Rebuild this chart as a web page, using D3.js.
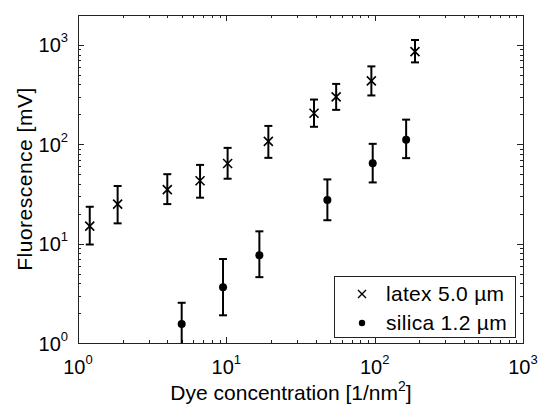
<!DOCTYPE html>
<html>
  <head>
    <script src="https://d3js.org/d3.v7.min.js"></script>
    <style>
      html,
      body {
        margin: 0;
        background: #fff;
        font-family: "Liberation Sans", Arial, sans-serif;
      }
    </style>
  </head>
  <body>
    <div id="chart"></div>
    <script>
      const width = 539;
      const height = 408;

      // latex 5.0 um
      const latexX = [1.2, 1.85, 4.0, 6.65, 10.2, 19.2, 39, 55, 95, 187];
      const latexY = [15, 25, 35, 43, 64, 107, 205, 300, 435, 855];
      const latexLo = [9.8, 16, 25, 29, 45, 73, 150, 222, 310, 667];
      const latexHi = [23.5, 38, 50, 62, 92, 153, 282, 405, 608, 1120];

      // silica 1.2 um
      const silicaX = [5.0, 9.5, 16.7, 48, 97, 163];
      const silicaY = [1.55, 3.65, 7.65, 27.5, 64.5, 111];
      const silicaLo = [0.9, 1.9, 4.6, 17.2, 41.3, 72.5];
      const silicaHi = [2.54, 7.0, 13.3, 44.3, 101, 177];

      const xTicks = [1, 10, 100, 1000];
      const yTicks = [1, 10, 100, 1000];

      const plotLeft = 78,
        plotRight = 523,
        plotTop = 15,
        plotBottom = 343;

      const x = d3.scaleLog().domain([1, 1000]).range([plotLeft, plotRight]);
      const y = d3.scaleLog().domain([1, 2000]).range([plotBottom, plotTop]);

      const svg = d3
        .select("#chart")
        .append("svg")
        .attr("width", width)
        .attr("height", height);

      svg
        .append("defs")
        .append("clipPath")
        .attr("id", "clip")
        .append("rect")
        .attr("x", plotLeft)
        .attr("y", plotTop)
        .attr("width", plotRight - plotLeft)
        .attr("height", plotBottom - plotTop);

      //minor + major ticks, inside on all four sides
      const minorX = [];
      [1, 10, 100].forEach((d) => {
        for (let k = 2; k <= 9; k++) minorX.push(d * k);
      });
      const minorY = [];
      [1, 10, 100, 1000].forEach((d) => {
        for (let k = 2; k <= 9; k++) if (d * k < 2000) minorY.push(d * k);
      });

      const ticks = svg
        .append("g")
        .attr("stroke", "#222")
        .attr("stroke-width", 1);

      const tickLen = (major) => (major ? 6 : 3);

      [
        [minorX, false],
        [xTicks, true],
      ].forEach(([arr, major]) => {
        arr.forEach((d) => {
          const px = Math.round(x(d)) + 0.5;
          ticks
            .append("line")
            .attr("x1", px)
            .attr("x2", px)
            .attr("y1", plotBottom)
            .attr("y2", plotBottom - tickLen(major));
          ticks
            .append("line")
            .attr("x1", px)
            .attr("x2", px)
            .attr("y1", plotTop)
            .attr("y2", plotTop + tickLen(major));
        });
      });
      [
        [minorY, false],
        [yTicks, true],
      ].forEach(([arr, major]) => {
        arr.forEach((d) => {
          const py = Math.round(y(d)) + 0.5;
          ticks
            .append("line")
            .attr("y1", py)
            .attr("y2", py)
            .attr("x1", plotLeft)
            .attr("x2", plotLeft + tickLen(major));
          ticks
            .append("line")
            .attr("y1", py)
            .attr("y2", py)
            .attr("x1", plotRight)
            .attr("x2", plotRight - tickLen(major));
        });
      });

      //frame
      svg
        .append("rect")
        .attr("x", plotLeft + 0.5)
        .attr("y", plotTop + 0.5)
        .attr("width", plotRight - plotLeft)
        .attr("height", plotBottom - plotTop)
        .attr("fill", "none")
        .attr("stroke", "#222")
        .attr("stroke-width", 1);

      //tick labels
      const labelSize = 20;
      xTicks.forEach((d) => {
        const t = svg
          .append("text")
          .attr("x", x(d))
          .attr("y", 374)
          .attr("text-anchor", "middle")
          .attr("font-size", labelSize)
          .attr("fill", "#000");
        t.append("tspan").text("10");
        t.append("tspan")
          .attr("dy", -10)
          .attr("font-size", 13)
          .text(Math.round(Math.log10(d)));
      });
      yTicks.forEach((d) => {
        const t = svg
          .append("text")
          .attr("x", 68)
          .attr("y", y(d) + 7.5)
          .attr("text-anchor", "end")
          .attr("font-size", labelSize)
          .attr("fill", "#000");
        t.append("tspan").text("10");
        t.append("tspan")
          .attr("dy", -10)
          .attr("font-size", 13)
          .text(Math.round(Math.log10(d)));
      });

      //axis titles
      const xl = svg
        .append("text")
        .attr("x", 291)
        .attr("y", 400)
        .attr("text-anchor", "middle")
        .attr("font-size", 21)
        .attr("fill", "#000");
      xl.append("tspan").text("Dye concentration [1/nm");
      xl.append("tspan").attr("dy", -9).attr("font-size", 14).text("2");
      xl.append("tspan").attr("dy", 9).text("]");

      svg
        .append("text")
        .attr(
          "transform",
          `translate(32, ${(plotTop + plotBottom) / 2}) rotate(-90)`
        )
        .attr("text-anchor", "middle")
        .attr("font-size", 21)
        .attr("letter-spacing", 0.5)
        .attr("fill", "#000")
        .text("Fluorescence [mV]");

      //data
      const plot = svg.append("g").attr("clip-path", "url(#clip)");

      function errorBars(xs, lo, hi) {
        const g = plot
          .append("g")
          .attr("stroke", "#000")
          .attr("stroke-width", 2);
        xs.forEach((d, i) => {
          const px = x(d);
          g.append("line")
            .attr("x1", px)
            .attr("x2", px)
            .attr("y1", y(lo[i]))
            .attr("y2", y(hi[i]));
          [lo[i], hi[i]].forEach((v) => {
            g.append("line")
              .attr("x1", px - 4)
              .attr("x2", px + 4)
              .attr("y1", y(v))
              .attr("y2", y(v));
          });
        });
      }

      errorBars(latexX, latexLo, latexHi);
      errorBars(silicaX, silicaLo, silicaHi);

      const crossPath = (s) => `M${-s},${-s}L${s},${s}M${-s},${s}L${s},${-s}`;

      plot
        .append("g")
        .selectAll("path")
        .data(latexX)
        .enter()
        .append("path")
        .attr("transform", (d, i) => `translate(${x(d)}, ${y(latexY[i])})`)
        .attr("d", crossPath(4.5))
        .attr("stroke", "#000")
        .attr("stroke-width", 1.6)
        .attr("fill", "none");

      plot
        .append("g")
        .selectAll("circle")
        .data(silicaX)
        .enter()
        .append("circle")
        .attr("cx", (d) => x(d))
        .attr("cy", (d, i) => y(silicaY[i]))
        .attr("r", 4)
        .attr("fill", "#000");

      //legend
      const lg = svg.append("g");
      lg.append("rect")
        .attr("x", 334.5)
        .attr("y", 276.5)
        .attr("width", 181)
        .attr("height", 61)
        .attr("fill", "#fff")
        .attr("stroke", "#222")
        .attr("stroke-width", 1);
      lg.append("path")
        .attr("transform", "translate(362, 294)")
        .attr("d", crossPath(4))
        .attr("stroke", "#000")
        .attr("stroke-width", 1.4);
      lg.append("circle")
        .attr("cx", 362)
        .attr("cy", 323)
        .attr("r", 3.2)
        .attr("fill", "#000");
      lg.append("text")
        .attr("x", 386)
        .attr("y", 301)
        .attr("font-size", 21)
        .attr("letter-spacing", 0.3)
        .attr("fill", "#000")
        .text("latex 5.0 µm");
      lg.append("text")
        .attr("x", 386)
        .attr("y", 330)
        .attr("font-size", 21)
        .attr("letter-spacing", 0.3)
        .attr("fill", "#000")
        .text("silica 1.2 µm");
    </script>
  </body>
</html>
